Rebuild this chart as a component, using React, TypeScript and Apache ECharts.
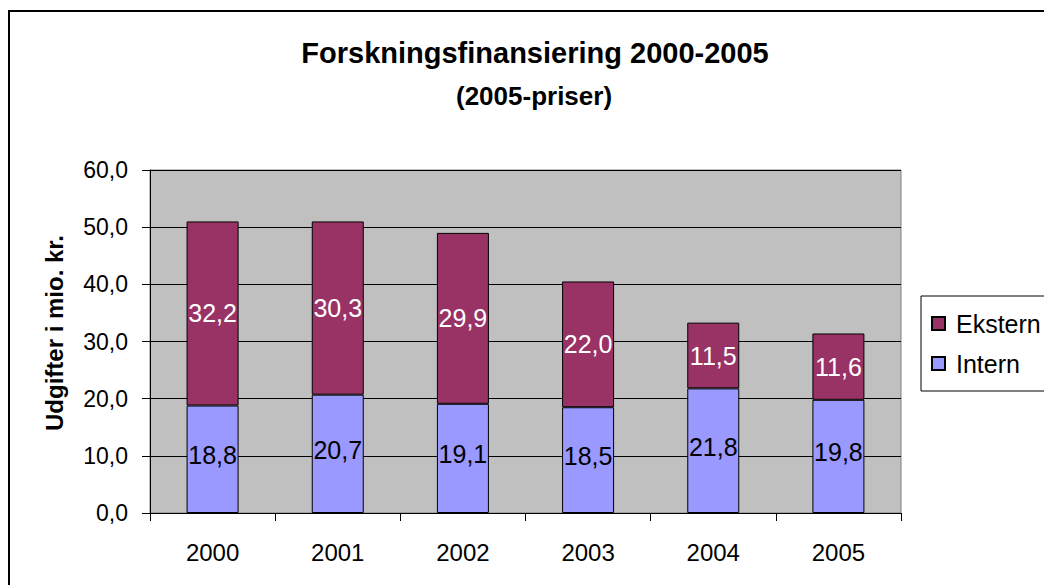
import React, { useEffect, useRef } from "react";
import * as echarts from "echarts";

const years = ["2000", "2001", "2002", "2003", "2004", "2005"];
const intern = [18.8, 20.7, 19.1, 18.5, 21.8, 19.8];
const ekstern = [32.2, 30.3, 29.9, 22.0, 11.5, 11.6];
const titleText = "Forskningsfinansiering 2000-2005";
const subtitleText = "(2005-priser)";
const yAxisName = "Udgifter i mio. kr.";

const fmt = (v: number) => v.toFixed(1).replace(".", ",");
const FONT = "'Liberation Sans', Arial, sans-serif";

export default function App() {
  const ref = useRef<HTMLDivElement>(null);
  useEffect(() => {
    if (!ref.current) return;
    const chart = echarts.init(ref.current, undefined, { renderer: "svg" });
    chart.setOption({
      animation: false,
      backgroundColor: "#ffffff",
      textStyle: { fontFamily: FONT, color: "#000" },
      title: [
        {
          text: titleText,
          left: 535,
          top: 38,
          padding: 0,
          textAlign: "center",
          textStyle: { fontSize: 29, fontWeight: "bold", color: "#000", fontFamily: FONT, lineHeight: 29 },
        },
        {
          text: subtitleText,
          left: 534,
          top: 83,
          padding: 0,
          textAlign: "center",
          textStyle: { fontSize: 26, fontWeight: "bold", color: "#000", fontFamily: FONT, lineHeight: 26 },
        },
      ],
      graphic: [
        {
          type: "rect",
          silent: true,
          z: -1,
          shape: { x: 9, y: 11, width: 1100, height: 700 },
          style: { fill: "none", stroke: "#000", lineWidth: 2 },
        },
      ],
      legend: {
        orient: "vertical",
        left: 921,
        top: 296,
        padding: [15, 60, 15, 10],
        borderColor: "#000",
        borderWidth: 1,
        itemWidth: 13,
        itemHeight: 13,
        itemGap: 15,
        icon: "rect",
        data: ["Ekstern", "Intern"],
        textStyle: { fontSize: 25, color: "#000", fontFamily: FONT, padding: [0, 0, 0, 6] },
      },
      grid: {
        left: 150,
        top: 170,
        width: 751,
        height: 343,
        show: true,
        backgroundColor: "#C0C0C0",
        borderColor: "#808080",
        borderWidth: 1,
      },
      xAxis: {
        type: "category",
        data: years,
        axisLine: { lineStyle: { color: "#000", width: 1 } },
        axisTick: { show: true, alignWithLabel: false, length: 8, lineStyle: { color: "#000" } },
        axisLabel: { fontSize: 24, color: "#000", margin: 27, fontFamily: FONT },
      },
      yAxis: {
        type: "value",
        min: 0,
        max: 60,
        interval: 10,
        name: yAxisName,
        nameLocation: "middle",
        nameGap: 84,
        nameTextStyle: { fontSize: 24, fontWeight: "bold", color: "#000", fontFamily: FONT, padding: [0, 0, 0, 17] },
        axisLine: { show: true, lineStyle: { color: "#000", width: 1 } },
        axisTick: { show: true, length: 8, lineStyle: { color: "#000" } },
        axisLabel: { fontSize: 23, color: "#000", margin: 22, formatter: (v: number) => fmt(v), fontFamily: FONT },
        splitLine: { show: true, lineStyle: { color: "#000", width: 1 } },
      },
      series: [
        {
          name: "Intern",
          type: "bar",
          stack: "total",
          barWidth: 52,
          data: intern,
          itemStyle: { color: "#9999FF", borderColor: "#000", borderWidth: 1 },
          label: {
            show: true,
            position: "inside",
            offset: [0, -4],
            color: "#000",
            fontSize: 25,
            fontFamily: FONT,
            formatter: (p: any) => fmt(p.value),
          },
        },
        {
          name: "Ekstern",
          type: "bar",
          stack: "total",
          barWidth: 52,
          data: ekstern,
          itemStyle: { color: "#993366", borderColor: "#000", borderWidth: 1 },
          label: {
            show: true,
            position: "inside",
            color: "#fff",
            fontSize: 25,
            fontFamily: FONT,
            formatter: (p: any) => fmt(p.value),
          },
        },
      ],
    });
    return () => chart.dispose();
  }, []);
  return (
    <div
      ref={ref}
      style={{ position: "absolute", left: 0, top: 0, width: 1044, height: 585 }}
    />
  );
}
